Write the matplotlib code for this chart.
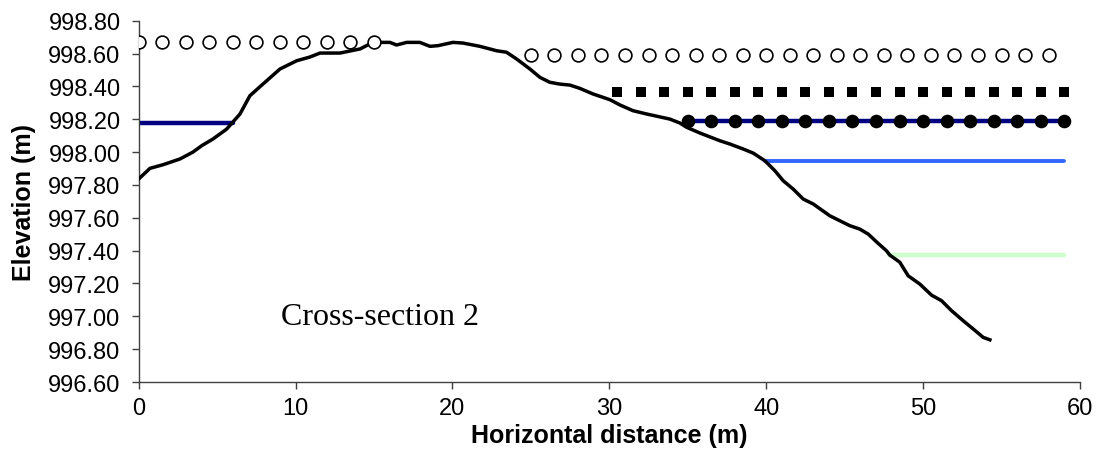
import matplotlib
matplotlib.use("Agg")
import matplotlib.pyplot as plt
from matplotlib.ticker import FormatStrFormatter, MultipleLocator

# Ground profile (cross-section 2)
ground_x = [0.0, 0.72, 1.55, 2.63, 3.46, 4.02, 4.74, 5.61, 6.46, 7.09, 7.92, 9.01,
            10.07, 10.92, 11.56, 12.83, 14.11, 14.93, 16.02, 16.44, 17.08, 17.92,
            18.57, 19.08, 20.03, 20.67, 21.75, 22.82, 23.45, 24.09, 24.94, 25.58,
            26.21, 26.85, 27.49, 28.12, 28.96, 30.04, 30.68, 31.51, 32.38, 33.86,
            34.5, 34.93, 35.78, 37.05, 37.69, 38.53, 39.17, 39.92, 40.56, 41.08,
            41.72, 42.36, 43.0, 44.06, 45.33, 45.97, 46.5, 47.14, 47.67, 47.88,
            48.52, 49.05, 49.8, 50.54, 51.18, 51.82, 52.56, 53.41, 53.83, 54.26]
ground_z = [997.836, 997.901, 997.923, 997.958, 998.000, 998.039, 998.080, 998.140,
            998.232, 998.343, 998.414, 998.506, 998.556, 998.579, 998.603, 998.603,
            998.628, 998.668, 998.668, 998.652, 998.668, 998.668, 998.644, 998.648,
            998.668, 998.664, 998.644, 998.617, 998.608, 998.567, 998.506, 998.455,
            998.425, 998.414, 998.408, 998.388, 998.354, 998.319, 998.287, 998.252,
            998.232, 998.201, 998.177, 998.151, 998.116, 998.069, 998.049, 998.019,
            997.994, 997.947, 997.886, 997.826, 997.775, 997.714, 997.684, 997.612,
            997.552, 997.531, 997.501, 997.444, 997.399, 997.373, 997.329, 997.247,
            997.196, 997.129, 997.095, 997.034, 996.973, 996.906, 996.872, 996.857]

# Open circles, left part (0 .. 15 m)
open_left_x = [0, 1.5, 3, 4.5, 6, 7.5, 9, 10.5, 12, 13.5, 15]
open_left_z = [998.67] * 11
# Open circles, right part (25 .. 58 m)
open_right_x = [25 + 1.5 * i for i in range(23)]
open_right_z = [998.59] * 23
# Black squares (30.5 .. 59 m)
square_x = [30.5 + 1.5 * i for i in range(20)]
square_z = [998.365] * 20
# Filled circles (35 .. 59 m)
filled_x = [35 + 1.5 * i for i in range(17)]
filled_z = [998.19] * 17

# Water-level lines
navy_left_x = [0, 6.0]
navy_left_z = [998.18, 998.18]
navy_right_x = [35, 59]
navy_right_z = [998.19, 998.19]
blue_x = [39.9, 59]
blue_z = [997.947, 997.947]
green_x = [47.8, 59]
green_z = [997.375, 997.375]

fig = plt.figure(figsize=(11.03, 4.77), dpi=100)
ax = fig.add_axes([0.1257, 0.197, 0.8534, 0.7575])

ax.plot(navy_left_x, navy_left_z, color="#000080", lw=3.2, solid_capstyle="round", zorder=2)
ax.plot(navy_right_x, navy_right_z, color="#000080", lw=3.2, solid_capstyle="round", zorder=2)
ax.plot(blue_x, blue_z, color="#3366FF", lw=2.8, solid_capstyle="round", zorder=2)
ax.plot(green_x, green_z, color="#CCFFCC", lw=3.2, solid_capstyle="round", zorder=2)
ax.plot(ground_x, ground_z, color="black", lw=2.5, zorder=3)

ax.plot(open_left_x, open_left_z, ls="none", marker="o", ms=9.2, mfc="white",
        mec="black", mew=1.2, zorder=4)
ax.plot(open_right_x, open_right_z, ls="none", marker="o", ms=9.2, mfc="white",
        mec="black", mew=1.2, zorder=4)
ax.plot(square_x, square_z, ls="none", marker="s", ms=7.2, mfc="black",
        mec="black", mew=0, zorder=4)
ax.plot(filled_x, filled_z, ls="none", marker="o", ms=9.8, mfc="black",
        mec="black", mew=0, zorder=4)

ax.text(9.1, 996.953, "Cross-section 2", family="Liberation Serif", fontsize=23,
        ha="left", va="baseline")

ax.set_xlim(0, 60)
ax.set_ylim(996.6, 998.8)
ax.xaxis.set_major_locator(MultipleLocator(10))
ax.yaxis.set_major_locator(MultipleLocator(0.2))
ax.yaxis.set_major_formatter(FormatStrFormatter("%.2f"))

for s in ["top", "right"]:
    ax.spines[s].set_visible(False)
for s in ["left", "bottom"]:
    ax.spines[s].set_color("#404040")
    ax.spines[s].set_linewidth(1.0)

ax.tick_params(axis="both", direction="out", length=5, width=1.0, color="#404040",
               labelsize=17)
for lab in ax.get_xticklabels() + ax.get_yticklabels():
    lab.set_family("Liberation Sans")
ax.tick_params(axis="x", pad=6.0)
ax.tick_params(axis="y", pad=8.0)

ax.set_xlabel("Horizontal distance (m)", family="Liberation Sans", fontweight="bold",
              fontsize=18, labelpad=3)
ax.set_ylabel("Elevation (m)", family="Liberation Sans", fontweight="bold",
              fontsize=18, labelpad=9)

fig.savefig("out.png", dpi=100)
